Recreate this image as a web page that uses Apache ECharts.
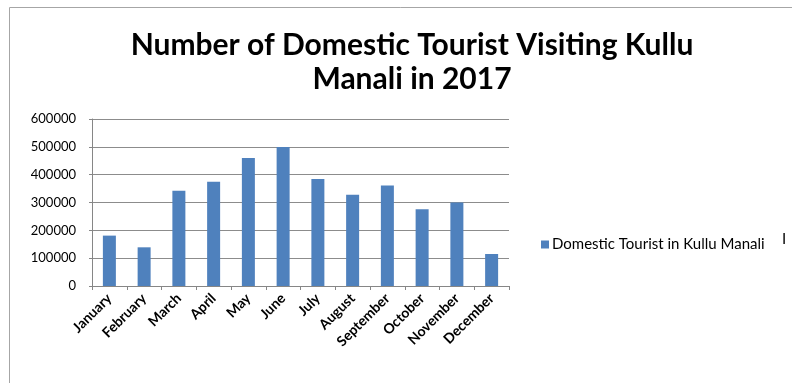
<!DOCTYPE html>
<html>
<head>
<meta charset="utf-8">
<script src="https://cdn.jsdelivr.net/npm/echarts@6/dist/echarts.min.js"></script>
<style>
  html, body { margin: 0; padding: 0; background: #fff; }
  #chart { width: 792px; height: 383px; }
</style>
</head>
<body>
<div id="chart"></div>
<script>
// Monthly domestic tourist arrivals, Kullu Manali, 2017
const months = ['January', 'February', 'March', 'April', 'May', 'June',
  'July', 'August', 'September', 'October', 'November', 'December'];
const tourists = [181000, 139000, 342000, 375000, 460000, 499000,
  384000, 328000, 361000, 276000, 300000, 115000];
const seriesName = 'Domestic Tourist in Kullu Manali';
const titleText = 'Number of Domestic Tourist Visiting Kullu\nManali in 2017';

const chart = echarts.init(document.getElementById('chart'), null, { renderer: 'canvas' });

chart.setOption({
  animation: false,
  backgroundColor: '#ffffff',
  title: {
    text: titleText,
    left: 407,
    textAlign: 'center',
    top: 23,
    textStyle: {
      fontFamily: 'Lato',
      fontWeight: 'bold',
      fontSize: 30,
      lineHeight: 34,
      color: '#000'
    }
  },
  legend: {
    data: [seriesName],
    left: 536,
    top: 232,
    orient: 'vertical',
    icon: 'rect',
    itemWidth: 8,
    itemHeight: 8,
    itemGap: 0,
    textStyle: { fontFamily: 'Lato', fontSize: 15, color: '#000', padding: [0, 0, 0, -2] }
  },
  grid: { left: 92, right: 283, top: 119, bottom: 97, containLabel: false },
  xAxis: {
    type: 'category',
    data: months,
    axisLine: { lineStyle: { color: '#868686', width: 1 } },
    axisTick: { show: true, length: 4, lineStyle: { color: '#868686' } },
    axisLabel: {
      rotate: 45,
      interval: 0,
      margin: 10,
      fontFamily: 'Lato',
      fontWeight: 'bold',
      fontSize: 14,
      color: '#000'
    }
  },
  yAxis: {
    type: 'value',
    min: 0,
    max: 600000,
    interval: 100000,
    axisLine: { show: true, lineStyle: { color: '#868686', width: 1 } },
    axisTick: { show: true, length: 3, lineStyle: { color: '#868686' } },
    splitLine: { lineStyle: { color: '#8c8c8c', width: 1 } },
    axisLabel: {
      margin: 16,
      fontFamily: 'Lato',
      fontSize: 13,
      color: '#000',
      formatter: function (v) { return String(v); }
    }
  },
  series: [{
    name: seriesName,
    type: 'bar',
    data: tourists,
    barWidth: 13,
    itemStyle: { color: '#4F81BD' }
  }],
  graphic: [
    { type: 'line', shape: { x1: 9.5, y1: 7.5, x2: 792, y2: 7.5 }, style: { stroke: '#a6a6a6', lineWidth: 1 } },
    { type: 'line', shape: { x1: 9.5, y1: 7.5, x2: 9.5, y2: 383 }, style: { stroke: '#a6a6a6', lineWidth: 1 } },
    { type: 'text', left: 782, top: 232, style: { text: 'I', font: '15px Lato', fill: '#000' } }
  ]
});
</script>
</body>
</html>
